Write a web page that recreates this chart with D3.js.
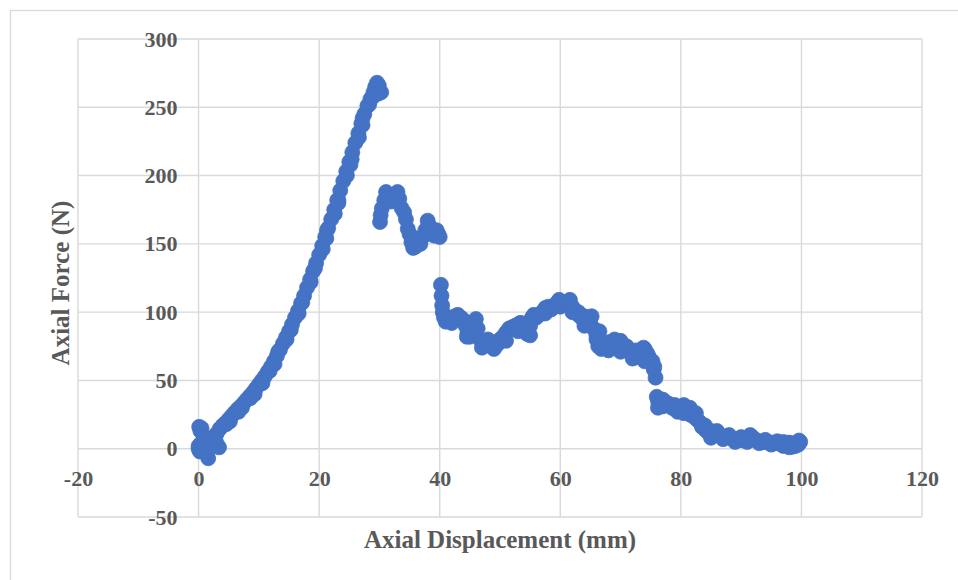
<!DOCTYPE html>
<html><head><meta charset="utf-8">
<script src="https://cdn.jsdelivr.net/npm/d3@7"></script>
<style>
body{margin:0;background:#fff}
svg{display:block}
text{font-family:"Liberation Serif","Times New Roman",serif;font-weight:bold;fill:#595959}
</style>
</head><body>
<svg id="c" width="958" height="580"></svg>
<script>
// ---- data ----
const toeX = [0,0.1,0.3,0.5,0,0.2,0.4,0.8,1.0,1.2, 1.6,1.5,2.0,2.2,2.6,3.0,3.4,3.0];
const toeY = [2,16,13,15,0,-2,4,3,8,-3, -7,2,1,6,9,4,1,11];

const loadX = [3.5,4.0,4.5,5.0,5.5,6.0,6.5,7.0,7.5,8.0, 8.5,9.0,9.5,10.0,10.5,11.0,11.5,12.0,12.5,13.0,
  13.5,14.0,14.5,15.0,15.5,16.0,16.5,17.0,17.5,18.0, 18.5,19.0,19.5,20.0,20.5,21.0,21.5,22.0,22.5,23.0,
  23.5,24.0,24.5,25.0,25.5,26.0,26.5,27.0,27.5,28.0, 28.5,29.0,29.3,29.6,29.9,30.3,29.8, 5.2,7.2,9.3,
  11.8,13.2,15.3,17.2,19.3,21.3,23.2,25.4,27.2,28.3,
  4.6,6.6,8.6,10.6,12.6,14.6,16.6,18.6,20.6,22.6, 24.6,26.6,21.2,23.2,25.2,27.2,28.8];
const loadY = [14.5,17,19,21.5,24,26.5,29,31,33.5,36, 38.5,41,44,47,50,53,56.5,60,64,68,
  72.5,77,81.5,86,91,96,101,106.5,112,118, 124,130,136,142,148.5,155,161.5,168,175,182,
  189,196,203,210,217,224,231,238,245,251, 256,261,265,268,266,261,260, 20,30,40,
  57,71,87,107,132,160,182,212,242,252,
  18,27,37,48,62,80,99,122,146,172, 200,228,154,180,208,237,257];

const dropX = [30.1,30.2,30.4,30.8,31.1,31.5,32.0,32.5,33.0,33.3, 33.7,34.1,34.4,34.7,35.0,35.3,35.6,36.0,36.4,36.8,
  37.2,37.6,38.0,38.3,38.7,39.1,39.5,39.8,40.0,35.5];
const dropY = [166,171,176,182,188,184,181,185,188,183, 176,173,168,161,157,151,147,148,152,150,
  155,160,167,163,158,156,160,157,155,155];

const plateauX = [40.2,40.3,40.4,40.5,40.7,41.0,41.5,42.0,42.5,43.0, 43.5,44.0,44.3,44.6,45.0,45.5,46.0,46.3,46.7,47.0,
  47.5,48.0,48.5,49.0,49.5,50.0,50.5,51.0,51.5,52.0, 52.5,53.0,53.5,54.0,54.5,55.0,55.3,55.6,56.0,56.5,
  57.0,57.5,58.0,58.5,59.0,59.5,60.0,60.5,61.0,61.5, 62.0,62.5,63.0,63.5,64.0,64.5,65.0,65.5,66.0,66.3,
  66.8,67.5,68.0,68.5,69.0,69.5,70.0,70.5,71.0,71.5, 72.0,72.5,73.0,73.5,74.0,74.4,74.8,75.2,75.5,75.8,
  63.0,64.0,65.2,66.5,67.0,69.0,70.0,71.0,72.5,73.8, 74.6,75.3,75.6,42.6,44.5,53.3,55.0,57.5,59.8,61.6,
  62.0,64.0,66.0,68.0,70.0,72.0,74.0,48.0,51.0,53.0];
const plateauY = [120,112,105,100,96,93,95,92,97,98, 96,94,90,85,82,88,95,88,80,74,
  78,77,75,73,76,80,82,85,88,89, 90,91,92,88,84,90,96,98,96,98,
  100,103,104,102,105,107,104,106,106,108, 104,101,98,96,94,95,92,88,83,75,
  73,74,72,76,80,77,75,74,72,71, 70,68,67,72,73,70,66,62,58,52,
  100,97,97,86,78,76,79,75,72,74, 68,64,60,96,82,92,83,99,109,109,
  100,90,80,78,71,66,64,80,79,86];

const tailX = [76.0,76.2,76.5,77.0,77.5,78.0,78.5,79.0,79.5,80.0, 80.5,81.0,81.5,82.0,82.5,83.0,83.5,84.0,84.5,85.0,
  85.5,86.0,86.5,87.0,87.5,88.0,88.5,89.0,89.5,90.0, 90.5,91.0,91.5,92.0,92.5,93.0,93.5,94.0,94.5,95.0,
  95.5,96.0,96.5,97.0,97.5,98.0,98.5,99.0,99.3,99.6, 99.8,99.5,76.2,77.0,79.0,80.5,81.5,82.5,83.5,84.0,
  85.0,86.0,85.0,87.0,89.0,91.0,93.0,95.0,97.0,98.0,
  86.0,88.0,90.0,92.0,94.0,96.0,97.0,98.0];
const tailY = [38,35,33,31,34,33,30,29,27,30, 32,28,25,24,22,20,16,14,12,11,
  10.5,10,9.5,9,8.5,8,7.5,7,6.5,6.5, 6,8,10,7,6,5.5,5,5,4.5,4.5,
  4,4,3.5,3,2.5,2,1.5,2,4,6, 5,3,30,36,32,26,30,26,18,17,
  13,12,8,7,5,5,4,3,2,1,
  13,10,8.5,8,6.5,5.5,5,4.5];

const displacement = [...toeX, ...loadX, ...dropX, ...plateauX, ...tailX];
const force = [...toeY, ...loadY, ...dropY, ...plateauY, ...tailY];

const xTicks = [-20,0,20,40,60,80,100,120];
const yTicks = [-50,0,50,100,150,200,250,300];
const xTitle = "Axial Displacement (mm)";
const yTitle = "Axial Force (N)";

// ---- drawing ----
const svg = d3.select('#c');
svg.append('rect').attr('x',10.5).attr('y',10.5).attr('width',960).attr('height',600)
  .attr('fill','#fff').attr('stroke','#d9d9d9').attr('stroke-width',1.3);

const x = d3.scaleLinear().domain([-20,120]).range([78,922]);
const y = d3.scaleLinear().domain([-50,300]).range([517,39]);

const grid = svg.append('g').attr('stroke','#d9d9d9').attr('stroke-width',1.4);
grid.selectAll('line.v').data(xTicks).join('line').attr('class','v')
  .attr('x1',d=>x(d)).attr('x2',d=>x(d)).attr('y1',y(-50)).attr('y2',y(300));
grid.selectAll('line.h').data(yTicks).join('line').attr('class','h')
  .attr('y1',d=>y(d)).attr('y2',d=>y(d)).attr('x1',x(-20)).attr('x2',x(120));

const pts = displacement.map((d,i)=>({x:d,y:force[i]}));
svg.append('g').selectAll('circle').data(pts).join('circle')
  .attr('cx',d=>x(d.x)).attr('cy',d=>y(d.y)).attr('r',7.5)
  .attr('fill','#4472C4').attr('stroke','#4472C4').attr('stroke-width',0.75);

const fmt = d => String(d);
const ya = svg.append('g').attr('transform',`translate(${x(0)},0)`)
  .call(d3.axisLeft(y).tickValues(yTicks).tickFormat(fmt).tickSize(0).tickPadding(21));
ya.select('.domain').remove();
ya.attr('font-family',null).attr('font-size',22);

const xa = svg.append('g').attr('transform',`translate(0,${y(0)})`)
  .call(d3.axisBottom(x).tickValues(xTicks).tickFormat(fmt).tickSize(0).tickPadding(22));
xa.select('.domain').remove();
xa.attr('font-family',null).attr('font-size',22);

svg.append('text').attr('x',500).attr('y',548).attr('text-anchor','middle')
  .attr('font-size',25).text(xTitle);
svg.append('text').attr('transform','translate(60,283) rotate(-90)').attr('text-anchor','middle')
  .attr('dy','0.35em').attr('font-size',25).text(yTitle);
</script>
</body></html>
